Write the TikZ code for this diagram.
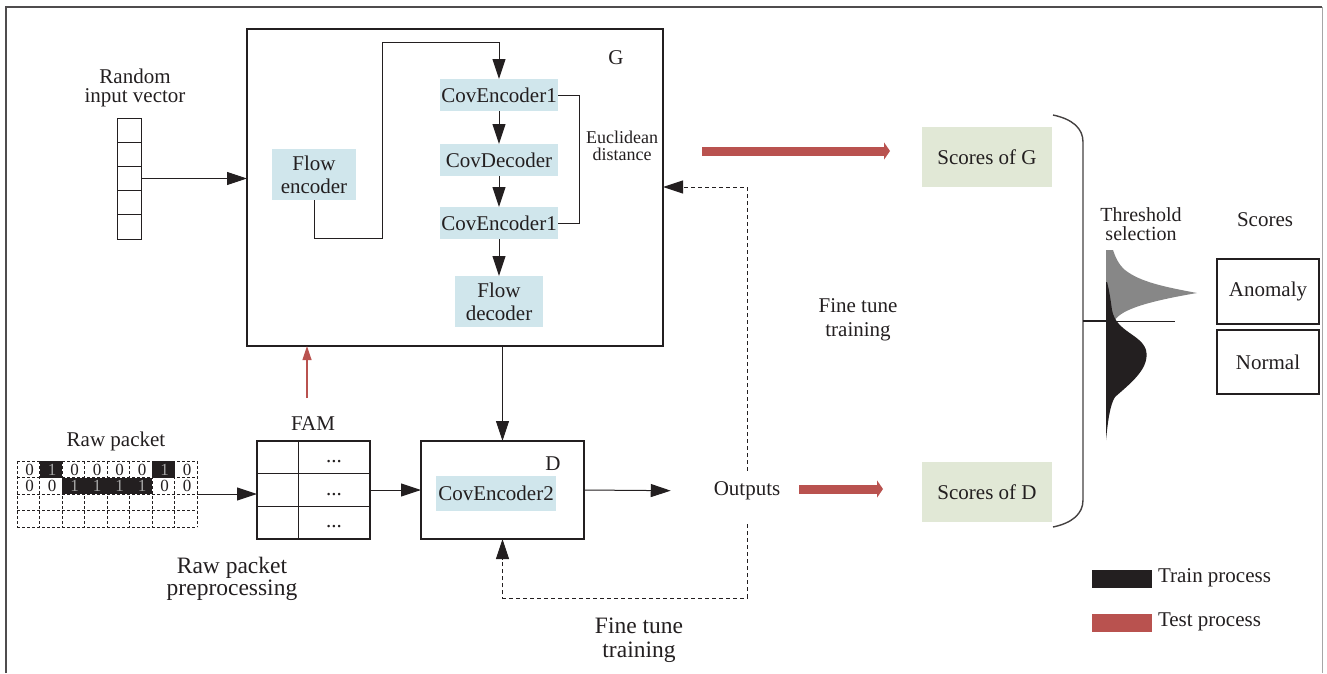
\documentclass[tikz,border=0pt]{standalone}
\usepackage{fontspec}
\setmainfont{Liberation Serif}
\usetikzlibrary{arrows.meta}
\definecolor{ink}{HTML}{231F20}
\definecolor{lblue}{HTML}{D0E6EC}
\definecolor{lgreen}{HTML}{E1E8D6}
\definecolor{tred}{HTML}{B9524F}
\definecolor{dgray}{HTML}{878787}
\newcommand{\fsz}[2]{\fontsize{#1}{#2}\selectfont}
\begin{document}
\begin{tikzpicture}[x=1pt,y=-1pt, line width=1pt, color=ink,
  every node/.style={inner sep=0pt, outer sep=0pt},
  box/.style={draw, line width=1.1pt},
  bluebox/.style={fill=lblue, align=center, font=\fsz{21}{23}},
  greenbox/.style={fill=lgreen, align=center, font=\fsz{21}{23}, minimum width=130, minimum height=60},
  lbl/.style={align=center, font=\fsz{21}{19}},
  arr/.style={-{Triangle[length=20pt,width=13pt]}, line width=1pt},
  darr/.style={arr, dash pattern=on 4pt off 3pt},
  redthin/.style={draw=tred, -{Triangle[length=14pt,width=9pt]}, line width=1.2pt},
  redthick/.style={draw=tred, line width=9pt, -{Triangle[length=6pt,width=17pt]}},
  cell/.style={draw, line width=0.9pt},
  griddash/.style={line width=0.8pt, dash pattern=on 3pt off 2pt}
]
\useasboundingbox (0,0) rectangle (1327,673);
% outer frame
\draw[line width=1.2pt, draw=ink!80] (6,673) -- (6,7) -- (1322,7);
\draw[line width=0.8pt, draw=black!35] (1322,7) -- (1322,673);

% ===== G block =====
\node[box, minimum width=416, minimum height=317] (G) at (455,187.5) {};
\node[font=\fsz{21}{23}] (Gl) at (616,58) {G};
\node[bluebox, minimum width=84, minimum height=51] (fe) at (314,174.5) {Flow\\encoder};
\node[bluebox, minimum width=118, minimum height=32] (ce1) at (499,95) {CovEncoder1};
\node[bluebox, minimum width=118, minimum height=32] (cd) at (499,160) {CovDecoder};
\node[bluebox, minimum width=118, minimum height=32] (ce2) at (499,223) {CovEncoder1};
\node[bluebox, minimum width=88, minimum height=51] (fd) at (499,301.5) {Flow\\decoder};
\node[align=center, font=\fsz{18}{17}] (eu) at (622,146) {Euclidean\\distance};
\coordinate (k1) at (382,238);
\coordinate (k2) at (382,42);
\draw[arr] (fe.south) |- (k1) -- (k2) -| (ce1.north);
\draw[arr] (ce1.south) -- (cd.north);
\draw[arr] (cd.south) -- (ce2.north);
\draw[arr] (ce2.south) -- (fd.north);
\draw (ce1.east) -- ++(21,0) |- (ce2.east);

% ===== random input vector =====
\node[lbl] (rvl) at (135,88) {Random\\input vector};
\foreach \i in {1,...,5}
  \node[cell, minimum width=24, minimum height=24.2] (rv\i) at (129,105.9+24.2*\i) {};
\draw[arr] (rv3.east) -- (rv3.east -| G.west);

% ===== raw packet =====
\node[font=\fsz{21}{23}] (rpl) at (116,441) {Raw packet};
\fill[ink] (39.5,461) rectangle ++(22.5,16.5);
\fill[ink] (152,461) rectangle ++(22.5,16.5);
\fill[ink] (62,477.5) rectangle (152,494);
\foreach \k in {0,...,8}
  \draw[griddash] (17+22.5*\k,461) -- (17+22.5*\k,527);
\foreach \k in {0,...,4}
  \draw[griddash] (17,461+16.5*\k) -- (197,461+16.5*\k);
\foreach [count=\c] \d in {0,1,0,0,0,0,1,0}{
  \ifnum\d=1 \def\dc{black!35}\else\def\dc{ink}\fi
  \node[text=\dc, font=\fsz{17}{17}] at (22.5*\c+7,469.5) {\d};}
\foreach [count=\c] \d in {0,0,1,1,1,1,0,0}{
  \ifnum\d=1 \def\dc{black!35}\else\def\dc{ink}\fi
  \node[text=\dc, font=\fsz{17}{17}] at (22.5*\c+7,486) {\d};}
\node[minimum width=180, minimum height=66] (rp) at (107,494) {};
\node[align=center, font=\fsz{23.5}{22}] (rpp) at (232,579) {Raw packet\\preprocessing};

% ===== FAM =====
\node[font=\fsz{21}{23}] (faml) at (313,424) {FAM};
\node[box, minimum width=113, minimum height=98] (fam) at (313.5,490) {};
\draw (298,441) -- (298,539);
\draw (257,473) -- (370,473);
\draw (257,506) -- (370,506);
\node[font=\fsz{21}{23}] (d1) at (334,462) {...};
\node[font=\fsz{21}{23}] (d2) at (334,495) {...};
\node[font=\fsz{21}{23}] (d3) at (334,527) {...};
\draw[arr] (rp.east) -- (rp.east -| fam.west);
\coordinate (famtop) at (307,398);
\draw[redthin] (famtop) -- (famtop |- G.south);

% ===== D block =====
\node[box, minimum width=163, minimum height=98] (D) at (502.5,490) {};
\node[font=\fsz{21}{23}] (Dl) at (553,464) {D};
\node[bluebox, minimum width=120, minimum height=35] (ce3) at (496,493.5) {CovEncoder2};
\draw[arr] (fam.east) -- (D.west);
\draw[arr] (G.south -| D.north) -- (D.north);

% ===== outputs =====
\node[font=\fsz{21}{23}, inner sep=2pt] (out) at (747,491) {Outputs};
\draw[arr, shorten >=41pt] (D.east) -- (out.west);
\coordinate (u1) at (747,187);
\coordinate (u2) at (747,598);
\draw[darr, shorten <=9pt] (out.north) -- (u1) -- (u1 -| G.east);
\draw[darr, shorten <=22pt] (out.south) -- (u2) -| (D.south);
\node[lbl, font=\fsz{21}{24}] (ft1) at (858,320) {Fine tune\\training};
\node[lbl, font=\fsz{23.5}{24}] (ft2) at (639,640) {Fine tune\\training};

% ===== scores =====
\node[greenbox] (sg) at (987,157) {Scores of G};
\node[greenbox] (sd) at (987,492) {Scores of D};
\coordinate (rg1) at (702,151);
\draw[redthick, shorten >=32pt] (rg1) -- (rg1 -| sg.west);
\coordinate (rd1) at (799,489);
\draw[redthick, shorten >=39pt] (rd1) -- (rd1 -| sd.west);

% bracket
\draw[line width=1.4pt, draw=ink!85] (1053,115) .. controls (1072,119) and (1083,128) .. (1083,142)
  -- (1083,500) .. controls (1083,514) and (1072,523) .. (1053,527);
% distributions
\fill[dgray] (1106,250) -- (1106,320) -- (1115,320)
  .. controls (1122,309) and (1150,301) .. (1197,293)
  .. controls (1165,287) and (1140,282) .. (1125,270)
  .. controls (1118,264) and (1115,256) .. (1113,250) -- cycle;
\fill[ink] (1106,282) -- (1106,440)
  .. controls (1108,420) and (1110,405) .. (1115,397)
  .. controls (1132,382) and (1150,368) .. (1146,350)
  .. controls (1141,334) and (1116,332) .. (1112,310)
  .. controls (1110,295) and (1108,285) .. (1107,282) -- cycle;
\draw[line width=1.3pt] (1083,321) -- (1107,321);
\draw[line width=1pt] (1107,321) -- (1175,321);
\node[align=center, font=\fsz{20}{19}] (ths) at (1141,224) {Threshold\\selection};
\node[font=\fsz{21}{23}] (scl) at (1265,220) {Scores};
\node[box, font=\fsz{21}{23}, minimum width=102, minimum height=65] (an) at (1268,291.5) {Anomaly};
\node[box, font=\fsz{21}{23}, minimum width=102, minimum height=64] (nm) at (1268,362) {Normal};

% legend
\node[fill=ink, minimum width=60, minimum height=18] (lk) at (1122,579) {};
\node[anchor=west, font=\fsz{21}{23}] (lkt) at (1158,578) {Train process};
\node[fill=tred, minimum width=60, minimum height=18] (lr) at (1122,623) {};
\node[anchor=west, font=\fsz{21}{23}] (lrt) at (1158,622) {Test process};
\end{tikzpicture}
\end{document}
